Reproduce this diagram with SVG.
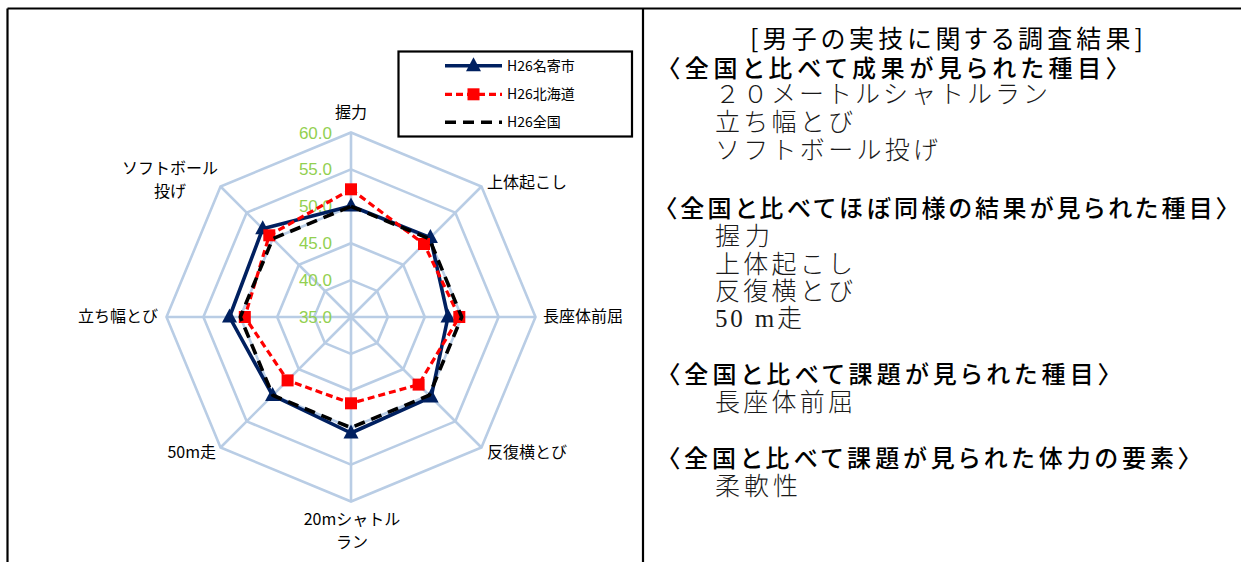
<svg xmlns="http://www.w3.org/2000/svg" width="1241" height="562" viewBox="0 0 1241 562">
<style>
.frame{stroke:#000;stroke-width:2.2;fill:none}
.grid{fill:none;stroke:#B9CDE5;stroke-width:2.6;stroke-linejoin:miter}
.val{font-family:"Liberation Sans",Arial,sans-serif;font-size:17px;fill:#92D050;text-anchor:end}
.ax{font-family:"Noto Sans CJK JP",sans-serif;font-size:16px;fill:#000}
.leg{font-family:"Noto Sans CJK JP",sans-serif;font-size:14px;fill:#000}
.navy{fill:none;stroke:#002060;stroke-width:3.6;stroke-linejoin:round}
.red{fill:none;stroke:#FF0000;stroke-width:3.2;stroke-dasharray:7 4;stroke-linejoin:round}
.blk{fill:none;stroke:#000;stroke-width:3.6;stroke-dasharray:11 7;stroke-linejoin:round}
.title{font-family:"Noto Sans CJK JP",sans-serif;font-size:25px;fill:#000;font-feature-settings:"palt"}
.head{font-family:"Noto Sans CJK JP",sans-serif;font-size:24px;font-weight:500;fill:#000;font-feature-settings:"palt"}
.item{font-family:"Liberation Serif","Noto Sans CJK JP",serif;font-size:25px;font-weight:300;fill:#1a1a1a}
</style>
<defs>
<path id="tri" d="M0,-8.5 L7.5,5.5 L-7.5,5.5 Z" fill="#002060"/>
<rect id="sq" x="-6" y="-6" width="12" height="12" fill="#FF0000"/>
</defs>
<rect width="1241" height="562" fill="#fff"/>
<g id="frame">
<line class="frame" x1="7.5" y1="8.5" x2="1241" y2="8.5"/>
<line class="frame" x1="7.5" y1="8.5" x2="7.5" y2="562"/>
<line class="frame" x1="643" y1="8.5" x2="643" y2="562"/>
</g>
<g id="radar-grid">
<polygon class="grid" points="351,280.1 377.09,290.91 387.9,317 377.09,343.09 351,353.9 324.91,343.09 314.1,317 324.91,290.91"/>
<polygon class="grid" points="351,243.2 403.18,264.82 424.8,317 403.18,369.18 351,390.8 298.82,369.18 277.2,317 298.82,264.82"/>
<polygon class="grid" points="351,206.3 429.28,238.72 461.7,317 429.28,395.28 351,427.7 272.72,395.28 240.3,317 272.72,238.72"/>
<polygon class="grid" points="351,169.4 455.37,212.63 498.6,317 455.37,421.37 351,464.6 246.63,421.37 203.4,317 246.63,212.63"/>
<polygon class="grid" points="351,132.5 481.46,186.54 535.5,317 481.46,447.46 351,501.5 220.54,447.46 166.5,317 220.54,186.54"/>
<path class="grid" d="M351,317 L351,132.5 M351,317 L481.46,186.54 M351,317 L535.5,317 M351,317 L481.46,447.46 M351,317 L351,501.5 M351,317 L220.54,447.46 M351,317 L166.5,317 M351,317 L220.54,186.54"/>
</g>
<g id="value-labels">
<text class="val" x="332" y="138.5">60.0</text>
<text class="val" x="332" y="175.4">55.0</text>
<text class="val" x="332" y="212.3">50.0</text>
<text class="val" x="332" y="249.2">45.0</text>
<text class="val" x="332" y="286.1">40.0</text>
<text class="val" x="332" y="323">35.0</text>
</g>
<g id="axis-labels">
<text class="ax" x="351" y="117.5" text-anchor="middle">握力</text>
<text class="ax" x="487" y="187.5">上体起こし</text>
<text class="ax" x="543" y="322">長座体前屈</text>
<text class="ax" x="487" y="457.5">反復横とび</text>
<text class="ax" x="352" y="525" text-anchor="middle">20mシャトル</text>
<text class="ax" x="352" y="548" text-anchor="middle">ラン</text>
<text class="ax" x="216" y="457.5" text-anchor="end">50m走</text>
<text class="ax" x="158" y="322" text-anchor="end">立ち幅とび</text>
<text class="ax" x="170" y="174" text-anchor="middle">ソフトボール</text>
<text class="ax" x="170" y="197" text-anchor="middle">投げ</text>
</g>
<g id="series">
<polygon class="navy" points="351,206 430.4,237.6 448,317 431.1,397.1 351,433 272.6,395.4 229.5,317 262.7,228.7"/>
<g id="navy-markers">
<use href="#tri" x="351" y="206"/><use href="#tri" x="430.4" y="237.6"/><use href="#tri" x="448" y="317"/><use href="#tri" x="431.1" y="397.1"/>
<use href="#tri" x="351" y="433"/><use href="#tri" x="272.6" y="395.4"/><use href="#tri" x="229.5" y="317"/><use href="#tri" x="262.7" y="228.7"/>
</g>
<polygon class="red" points="351,189.3 424,244 459.3,317 418.6,384.6 351,403.3 287.6,380.4 244.8,317 269.3,235.3"/>
<g id="red-markers">
<use href="#sq" x="351" y="189.3"/><use href="#sq" x="424" y="244"/><use href="#sq" x="459.3" y="317"/><use href="#sq" x="418.6" y="384.6"/>
<use href="#sq" x="351" y="403.3"/><use href="#sq" x="287.6" y="380.4"/><use href="#sq" x="244.8" y="317"/><use href="#sq" x="269.3" y="235.3"/>
</g>
<polygon class="blk" points="351,206.3 429.28,238.72 461.7,317 429.28,395.28 351,427.7 272.72,395.28 240.3,317 272.72,238.72"/>
</g>
<g id="legend">
<rect x="398.5" y="51.5" width="233.5" height="85" fill="#fff" stroke="#000" stroke-width="2.2"/>
<line class="navy" x1="445" y1="65.7" x2="502" y2="65.7"/>
<use href="#tri" x="473.5" y="65.7"/>
<text class="leg" x="507" y="70.7">H26名寄市</text>
<line class="red" x1="445" y1="94.3" x2="502" y2="94.3" stroke-dasharray="7 3.5"/>
<use href="#sq" x="473.5" y="94.3"/>
<text class="leg" x="507" y="99.3">H26北海道</text>
<line class="blk" x1="445" y1="122.3" x2="502" y2="122.3" stroke-dasharray="12 9"/>
<text class="leg" x="507" y="127.3">H26全国</text>
</g>
<g id="summary">
<text class="title" x="750" y="48" textLength="393" lengthAdjust="spacing">[男子の実技に関する調査結果]</text>
<text class="head" x="668" y="77" textLength="450" lengthAdjust="spacing">〈全国と比べて成果が見られた種目〉</text>
<text class="item" x="715" y="102.5" textLength="333" lengthAdjust="spacing">２０メートルシャトルラン</text>
<text class="item" x="715" y="130.5" textLength="138" lengthAdjust="spacing">立ち幅とび</text>
<text class="item" x="715" y="158.5" textLength="223" lengthAdjust="spacing">ソフトボール投げ</text>
<text class="head" x="665" y="217" textLength="563" lengthAdjust="spacing">〈全国と比べてほぼ同様の結果が見られた種目〉</text>
<text class="item" x="715" y="244.5" textLength="55" lengthAdjust="spacing">握力</text>
<text class="item" x="715" y="272.5" textLength="138" lengthAdjust="spacing">上体起こし</text>
<text class="item" x="715" y="299.5" textLength="138" lengthAdjust="spacing">反復横とび</text>
<text class="item" x="715" y="326.5" textLength="87" lengthAdjust="spacing">50 m走</text>
<text class="head" x="668" y="383" textLength="442" lengthAdjust="spacing">〈全国と比べて課題が見られた種目〉</text>
<text class="item" x="715" y="410.5" textLength="138" lengthAdjust="spacing">長座体前屈</text>
<text class="head" x="668" y="467" textLength="522" lengthAdjust="spacing">〈全国と比べて課題が見られた体力の要素〉</text>
<text class="item" x="715" y="494.5" textLength="83" lengthAdjust="spacing">柔軟性</text>
</g>
</svg>
